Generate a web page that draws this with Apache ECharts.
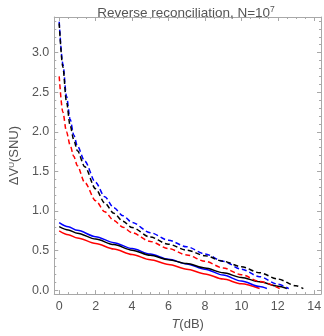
<!DOCTYPE html>
<html><head><meta charset="utf-8">
<script src="https://cdn.jsdelivr.net/npm/echarts@6/dist/echarts.min.js"></script>
<style>html,body{margin:0;padding:0;background:#fff}#c{width:324px;height:336px}</style>
</head><body><div id="c"></div>
<script>
// Data (T in dB, ΔV in SNU)
const redSolid   = [[0,0.749],[0.5,0.70],[1,0.66],[2,0.59],[3,0.52],[4,0.45],[5,0.385],[6,0.325],[7,0.265],[8,0.205],[9,0.14],[10,0.08],[11,0.02]];
const blueSolid  = [[0,0.853],[0.5,0.80],[1,0.755],[2,0.675],[3,0.60],[4,0.525],[5,0.455],[6,0.39],[7,0.33],[8,0.265],[9,0.19],[10,0.115],[11,0.045],[11.4,0.02]];
const blackSolid = [[0,0.803],[0.5,0.76],[1,0.72],[2,0.645],[3,0.575],[4,0.505],[5,0.44],[6,0.385],[7,0.335],[8,0.28],[9,0.22],[10,0.16],[11,0.105],[12,0.05],[12.5,0.02]];
const redDashed  = [[0,2.70],[0.2,2.25],[0.4,2.00],[0.6,1.83],[0.8,1.69],[1.0,1.57],[1.4,1.36],[2.0,1.13],[2.5,0.99],[3.0,0.88],[3.5,0.795],[4.0,0.725],[5.0,0.615],[6.0,0.525],[7.0,0.445],[8.0,0.365],[9.0,0.28],[10.0,0.195],[11.0,0.11],[12.1,0.02]];
const blackDashed= [[0,3.37],[0.2,2.82],[0.4,2.38],[0.6,2.08],[0.8,1.90],[1.0,1.76],[1.4,1.56],[2.0,1.28],[2.5,1.10],[3.0,0.97],[3.5,0.87],[4.0,0.79],[5.0,0.67],[6.0,0.58],[7.0,0.505],[8.0,0.435],[9.0,0.365],[10.0,0.295],[11.0,0.22],[12.0,0.14],[13.0,0.055],[13.4,0.02]];
const blueDashed = [[0,3.39],[0.2,2.86],[0.4,2.45],[0.6,2.16],[0.8,1.96],[1.0,1.82],[1.4,1.63],[2.0,1.36],[2.5,1.18],[3.0,1.04],[3.5,0.94],[4.0,0.855],[5.0,0.725],[6.0,0.63],[7.0,0.548],[8.0,0.458],[9.0,0.365],[10.0,0.265],[11.0,0.17],[12.0,0.075],[12.6,0.02]];

const xMajor = [0,2,4,6,8,10,12,14];
const xMinor = [0,0.5,1,1.5,2,2.5,3,3.5,4,4.5,5,5.5,6,6.5,7,7.5,8,8.5,9,9.5,10,10.5,11,11.5,12,12.5,13,13.5,14];
const yMajor = [0,0.5,1,1.5,2,2.5,3];
const yMinor = [0,0.1,0.2,0.3,0.4,0.5,0.6,0.7,0.8,0.9,1,1.1,1.2,1.3,1.4,1.5,1.6,1.7,1.8,1.9,2,2.1,2.2,2.3,2.4,2.5,2.6,2.7,2.8,2.9,3,3.1,3.2,3.3,3.4];

const XMIN=-0.27, XMAX=14.37, YMIN=-0.05, YMAX=3.45;
const FONT='Liberation Sans';
const frame='#a8a8a8', txt='#555';

function xAx(pos, ticks, len, labels, line){
  return {type:'value', position:pos, min:XMIN, max:XMAX,
    axisLine:{show:line, onZero:false, lineStyle:{color:frame,width:1}},
    axisTick:{show:true, inside:true, length:len, customValues:ticks, lineStyle:{color:frame}},
    axisLabel:{show:labels, customValues:xMajor, color:txt, fontFamily:FONT, fontSize:12.5, margin:6, formatter:v=>String(v)},
    splitLine:{show:false}};
}
function yAx(pos, ticks, len, labels, line){
  return {type:'value', position:pos, min:YMIN, max:YMAX,
    axisLine:{show:line, onZero:false, lineStyle:{color:frame,width:1}},
    axisTick:{show:true, inside:true, length:len, customValues:ticks, lineStyle:{color:frame}},
    axisLabel:{show:labels, customValues:yMajor, color:txt, fontFamily:FONT, fontSize:12.5, margin:5, formatter:v=>v.toFixed(1)},
    splitLine:{show:false}};
}
const xs=[xAx('bottom',xMajor,4,true,true), xAx('bottom',xMinor,2,false,false), xAx('top',xMajor,4,false,true), xAx('top',xMinor,2,false,false)];
xs[0].name='{i|T}{a|(dB)}'; xs[0].nameLocation='middle'; xs[0].nameGap=22;
xs[0].nameTextStyle={rich:{i:{fontStyle:'italic',fontSize:13,color:txt,fontFamily:FONT},a:{fontSize:13,color:txt,fontFamily:FONT}}};
const ys=[yAx('left',yMajor,4,true,true), yAx('left',yMinor,2,false,false), yAx('right',yMajor,4,false,true), yAx('right',yMinor,2,false,false)];
ys[0].name='{a|ΔV}{s|U}{a|(SNU)}'; ys[0].nameLocation='middle'; ys[0].nameGap=24;
ys[0].nameTextStyle={rich:{a:{fontSize:13,color:txt,fontFamily:FONT},s:{fontSize:8,color:txt,fontFamily:FONT,verticalAlign:'top'}}};

function ser(data,color,dashed){
  return {type:'line', data:data, xAxisIndex:0, yAxisIndex:0, symbol:'none', smooth:0.3, smoothMonotone:'x',
    lineStyle:{color:color,width:1.5,type:dashed?[5,3]:'solid'}, silent:true, animation:false};
}
const chart=echarts.init(document.getElementById('c'),null,{renderer:'canvas'});
chart.setOption({
  animation:false,
  title:{text:'{a|Reverse reconciliation, N=10}{s|7}', left:181, textAlign:'center', top:0,
    textStyle:{fontWeight:'normal',rich:{a:{fontSize:13.5,fontWeight:'normal',color:txt,fontFamily:FONT,lineHeight:16},s:{fontSize:8.5,fontWeight:'normal',color:txt,fontFamily:FONT,verticalAlign:'top',lineHeight:16,padding:[0,0,6,0]}}}},
  grid:{left:40,right:3,top:17,bottom:40,containLabel:false},
  xAxis:xs, yAxis:ys,
  series:[ser(redSolid,'#ff0000',false),ser(blueSolid,'#0000ff',false),ser(blackSolid,'#000000',false),
          ser(redDashed,'#ff0000',true),ser(blueDashed,'#0000ff',true),ser(blackDashed,'#000000',true)]
});
</script></body></html>
